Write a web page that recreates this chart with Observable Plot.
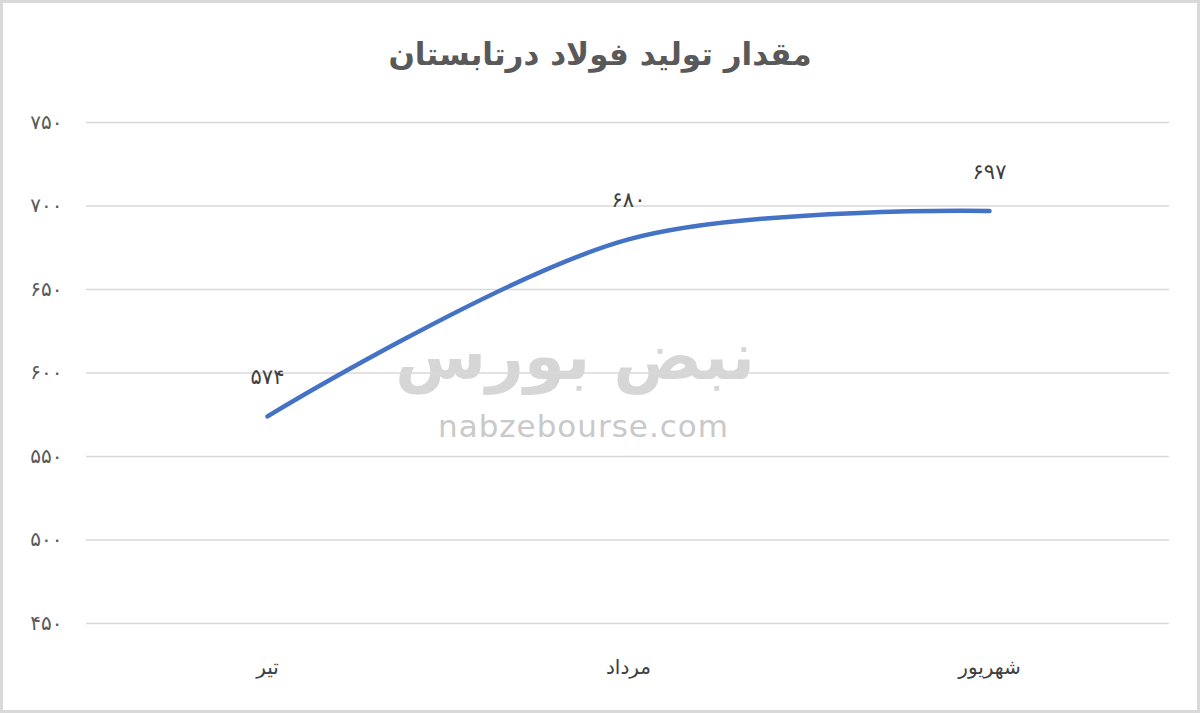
<!DOCTYPE html>
<html>
<head>
<meta charset="utf-8">
<script src="https://cdn.jsdelivr.net/npm/d3@7"></script>
<script src="https://cdn.jsdelivr.net/npm/@observablehq/plot@0.6"></script>
<style>
  html, body { margin: 0; padding: 0; background: #fff; }
  #wrap { position: relative; width: 1200px; height: 713px; overflow: hidden; background: #fff; font-family: "DejaVu Sans", sans-serif; }
  #border { position: absolute; left: 0; top: 0; width: 1200px; height: 713px; box-sizing: border-box; border: 3px solid #d9d9d9; pointer-events: none; z-index: 5; }
  #title { position: absolute; left: 0; top: 36px; width: 1200px; text-align: center; font-size: 31px; font-weight: bold; color: #595959; direction: rtl; z-index: 3; }
  .wm { position: absolute; color: #c9c9c9; z-index: 0; white-space: nowrap; }
  #wm1 { left: 438px; top: 408px; font-size: 31px; letter-spacing: 1px; }
  #wm2 { left: 395px; top: 318px; font-size: 66px; font-weight: bold; direction: rtl; color: #d6d6d6; }
  #chart { position: absolute; left: 0; top: 90px; z-index: 2; }
</style>
</head>
<body>
<div id="wrap">
  <div id="title">مقدار تولید فولاد درتابستان</div>
  <div class="wm" id="wm2">نبض بورس</div>
  <div class="wm" id="wm1">nabzebourse.com</div>
  <div id="chart"></div>
  <div id="border"></div>
</div>
<script>
const months = ["تیر", "مرداد", "شهریور"];
const production = [574, 680, 697];
const yTicks = [450, 500, 550, 600, 650, 700, 750];

const faDigits = "۰۱۲۳۴۵۶۷۸۹";
const toFa = n => String(n).replace(/[0-9]/g, d => faDigits[+d]);

const data = months.map((m, i) => ({month: m, value: production[i]}));

const chart = Plot.plot({
  width: 1200,
  height: 623,
  marginTop: 32,
  marginBottom: 90,
  marginLeft: 86,
  marginRight: 31,
  style: {background: "transparent", fontFamily: "DejaVu Sans, sans-serif"},
  x: {type: "point", domain: months, padding: 0.5, label: null},
  y: {domain: [450, 750], label: null},
  marks: [
    Plot.gridY(yTicks, {stroke: "#d9d9d9", strokeOpacity: 1, strokeWidth: 1.5}),
    Plot.axisY(yTicks, {tickSize: 0, tickPadding: 24, fontSize: 20, fill: "#595959", tickFormat: toFa, label: null}),
    Plot.axisX({tickSize: 0, tickPadding: 36, fontSize: 20, fill: "#404040", label: null}),
    Plot.line(data, {x: "month", y: "value", curve: "catmull-rom", stroke: "#4472C4", strokeWidth: 4.5, strokeLinecap: "round"}),
    Plot.text(data, {x: "month", y: "value", text: d => toFa(d.value), dy: -39, fontSize: 21, fill: "#404040"})
  ]
});
document.getElementById("chart").appendChild(chart);
</script>
</body>
</html>
